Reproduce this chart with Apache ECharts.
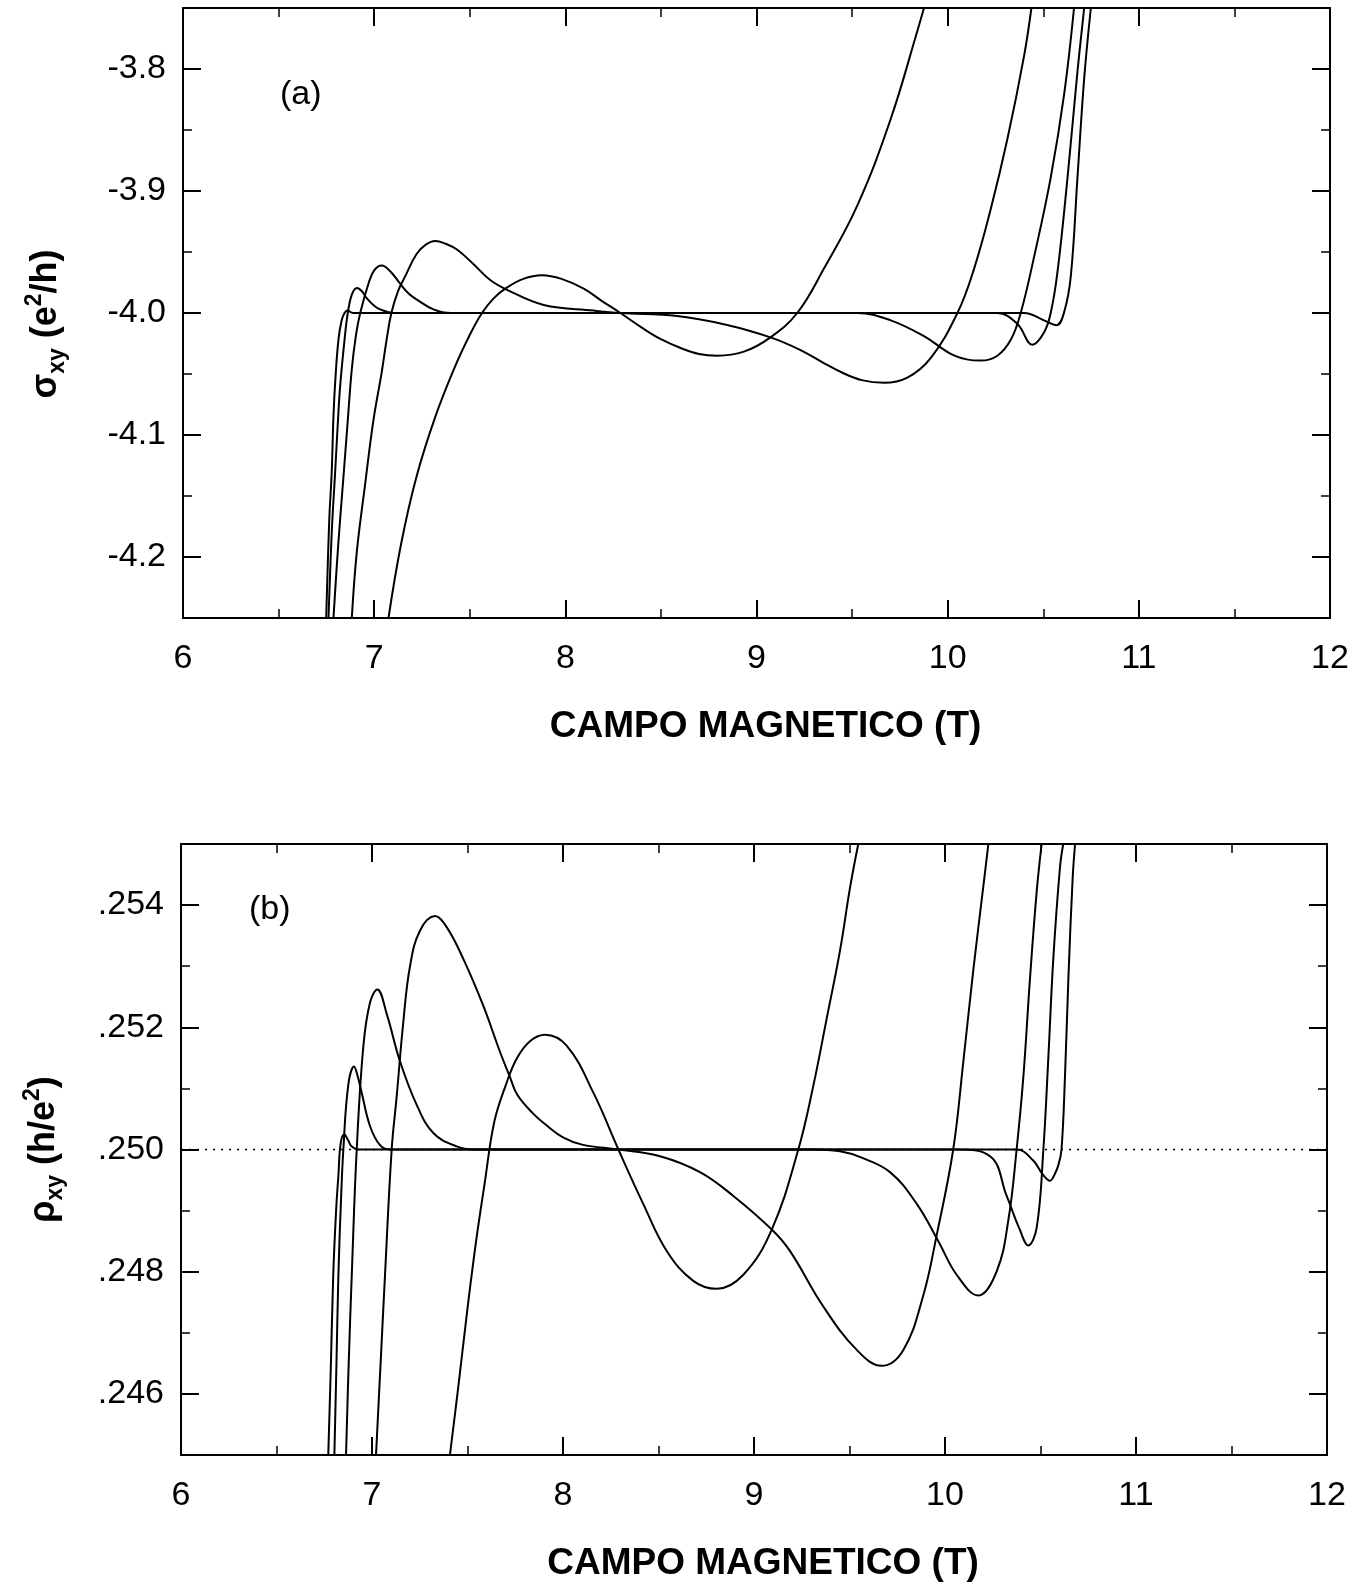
<!DOCTYPE html>
<html><head><meta charset="utf-8">
<script src="https://cdn.jsdelivr.net/npm/echarts@6/dist/echarts.min.js"></script>
<style>html,body{margin:0;padding:0;background:#fff}#c{width:1369px;height:1586px}</style>
</head><body><div id="c"></div>
<script>
// ---- tick labels ----
const xTickLabels = ['6','7','8','9','10','11','12'];
const sigmaTickLabels = ['-4.2','-4.1','-4.0','-3.9','-3.8'];
const rhoTickLabels = ['.246','.248','.250','.252','.254'];
const xAxisTitle = 'CAMPO MAGNETICO (T)';

// ---- (a) sigma_xy (e^2/h) vs B (T) ----
const sigma1 = [[6.749,-4.25],[6.765,-4.17],[6.778,-4.13],[6.787,-4.085],[6.796,-4.057],[6.813,-4.022],[6.83,-4.006],[6.845,-4.0],[6.86,-3.998],[6.89,-4.0],[7.0,-4.0],[8,-4.0],[9,-4.0],[10,-4.0],[10.40,-4.0],[10.504,-4.006],[10.569,-4.010],[10.609,-3.9995],[10.644,-3.970],[10.679,-3.889],[10.714,-3.808],[10.749,-3.75]];
const sigma2 = [[6.761,-4.25],[6.778,-4.18],[6.796,-4.13],[6.81,-4.09],[6.822,-4.06],[6.845,-4.022],[6.862,-4.0],[6.883,-3.985],[6.91,-3.9795],[6.935,-3.982],[6.962,-3.988],[7.0,-3.994],[7.031,-3.997],[7.1,-4.0],[8,-4.0],[9,-4.0],[10,-4.0],[10.26,-4.0],[10.365,-4.009],[10.443,-4.026],[10.504,-4.016],[10.539,-4.0],[10.574,-3.967],[10.627,-3.889],[10.679,-3.802],[10.714,-3.75]];
const sigma3 = [[6.787,-4.25],[6.812,-4.19],[6.839,-4.135],[6.862,-4.088],[6.883,-4.046],[6.905,-4.018],[6.927,-4.0],[6.97,-3.976],[7.0,-3.965],[7.04,-3.961],[7.085,-3.966],[7.136,-3.976],[7.18,-3.984],[7.223,-3.989],[7.31,-3.997],[7.40,-4.0],[8,-4.0],[9,-4.0],[9.527,-4.0],[9.702,-4.006],[9.876,-4.019],[10.016,-4.0335],[10.10,-4.038],[10.173,-4.039],[10.26,-4.035],[10.33,-4.022],[10.382,-4.0],[10.452,-3.954],[10.539,-3.889],[10.609,-3.821],[10.661,-3.75]];
const sigma4 = [[6.883,-4.25],[6.909,-4.196],[6.953,-4.14],[6.996,-4.088],[7.04,-4.048],[7.065,-4.022],[7.09,-4.0],[7.125,-3.982],[7.162,-3.970],[7.22,-3.952],[7.27,-3.944],[7.32,-3.941],[7.37,-3.943],[7.433,-3.948],[7.52,-3.960],[7.607,-3.973],[7.695,-3.981],[7.887,-3.9934],[8.148,-3.998],[8.288,-4.0],[8.585,-4.0025],[8.846,-4.0098],[9.073,-4.020],[9.225,-4.030],[9.352,-4.041],[9.45,-4.049],[9.55,-4.055],[9.667,-4.0572],[9.789,-4.053],[9.911,-4.037],[10.051,-4.0],[10.138,-3.9638],[10.225,-3.915],[10.313,-3.857],[10.40,-3.789],[10.438,-3.75]];
const sigma5 = [[7.075,-4.25],[7.14,-4.19],[7.22,-4.135],[7.32,-4.085],[7.42,-4.045],[7.50,-4.018],[7.564,-4.0],[7.625,-3.988],[7.686,-3.980],[7.78,-3.972],[7.878,-3.969],[7.98,-3.972],[8.096,-3.980],[8.19,-3.99],[8.288,-4.0],[8.40,-4.012],[8.50,-4.0215],[8.60,-4.0285],[8.70,-4.0336],[8.794,-4.035],[8.934,-4.0317],[9.073,-4.020],[9.213,-4.0],[9.352,-3.9638],[9.527,-3.912],[9.702,-3.841],[9.841,-3.769],[9.876,-3.75]];

// ---- (b) rho_xy (h/e^2) vs B (T) ----
const rho1 = [[6.771,0.245],[6.785,0.2465],[6.797,0.24794],[6.812,0.249],[6.824,0.24957],[6.836,0.2501],[6.855,0.25025],[6.875,0.25015],[6.894,0.25005],[6.93,0.250],[8,0.250],[9,0.250],[10,0.250],[10.375,0.250],[10.462,0.24982],[10.51,0.2496],[10.55,0.24949],[10.575,0.2496],[10.593,0.24974],[10.61,0.250],[10.628,0.25118],[10.646,0.2528],[10.668,0.25442],[10.681,0.255]];
const rho2 = [[6.803,0.245],[6.814,0.2465],[6.824,0.24794],[6.838,0.2492],[6.85,0.250],[6.876,0.25106],[6.906,0.25136],[6.925,0.2512],[6.946,0.25093],[6.99,0.25038],[7.042,0.25007],[7.094,0.250],[8,0.250],[9,0.250],[10.06,0.250],[10.236,0.24989],[10.323,0.24924],[10.39,0.2487],[10.436,0.24843],[10.48,0.24872],[10.515,0.250],[10.541,0.2515],[10.567,0.25312],[10.602,0.25462],[10.619,0.255]];
const rho3 = [[6.864,0.245],[6.878,0.2465],[6.894,0.24794],[6.92,0.250],[6.955,0.2517],[6.99,0.25241],[7.028,0.25262],[7.077,0.25222],[7.147,0.25144],[7.234,0.25073],[7.321,0.25027],[7.443,0.25005],[7.53,0.250],[9,0.250],[9.3,0.250],[9.45,0.24997],[9.56,0.24987],[9.712,0.24963],[9.852,0.24911],[9.965,0.2485],[10.061,0.24795],[10.174,0.24761],[10.271,0.24801],[10.332,0.24885],[10.375,0.250],[10.41,0.25118],[10.445,0.2528],[10.48,0.25422],[10.506,0.255]];
const rho4 = [[7.021,0.245],[7.045,0.2465],[7.068,0.24794],[7.103,0.250],[7.129,0.25086],[7.164,0.25209],[7.199,0.253],[7.251,0.25358],[7.33,0.25382],[7.391,0.25364],[7.478,0.25312],[7.583,0.25235],[7.67,0.2516],[7.723,0.25118],[7.76,0.2509],[7.84,0.2506],[7.92,0.25038],[8.0,0.2502],[8.1,0.25008],[8.29,0.250],[8.508,0.24989],[8.717,0.24963],[8.892,0.24924],[9.093,0.24869],[9.188,0.24834],[9.363,0.24743],[9.538,0.24672],[9.668,0.24646],[9.782,0.24672],[9.887,0.24762],[9.956,0.24859],[10.043,0.250],[10.096,0.25144],[10.148,0.25293],[10.2,0.25429],[10.227,0.255]];
const rho5 = [[7.408,0.245],[7.455,0.2462],[7.50,0.2474],[7.545,0.2485],[7.59,0.24945],[7.64,0.25045],[7.70,0.25105],[7.76,0.2515],[7.83,0.25178],[7.906,0.25188],[8.019,0.2517],[8.159,0.25093],[8.29,0.250],[8.42,0.24911],[8.543,0.24834],[8.682,0.24785],[8.805,0.24772],[8.944,0.24795],[9.093,0.24869],[9.232,0.250],[9.311,0.25105],[9.381,0.25215],[9.45,0.25325],[9.503,0.25429],[9.546,0.255]];
const rhoPlateau = [[6,0.25],[12,0.25]];

const sigmaCurves = [sigma1, sigma2, sigma3, sigma4, sigma5];
const rhoCurves = [rho1, rho2, rho3, rho4, rho5];

const FONT = '"Liberation Sans", Arial, sans-serif';

function lbl(list, dec) {
  return function (v) {
    const s = v.toFixed(dec);
    const t = s.replace(/^0\./, '.').replace(/^-0\./, '-.');
    return (Math.abs(v - parseFloat(s)) < 1e-9 && list.indexOf(t) >= 0) ? t : '';
  };
}

const tickStyle = { inside: true, length: 18, lineStyle: { color: '#000', width: 2 } };
const minorStyle = { show: true, splitNumber: 2, length: 9, lineStyle: { color: '#000', width: 1.5 } };
const lineAx = { show: true, onZero: false, lineStyle: { color: '#000', width: 2 } };
const baseLabel = { color: '#000', fontSize: 34, fontFamily: FONT };

function xAxes(gridIndex) {
  return [
    { type: 'value', gridIndex, position: 'bottom', min: 6, max: 12, interval: 1,
      axisLine: lineAx, axisTick: tickStyle, minorTick: minorStyle, splitLine: { show: false },
      axisLabel: Object.assign({ formatter: lbl(xTickLabels, 0), margin: 24 }, baseLabel),
      name: xAxisTitle, nameLocation: 'middle', nameGap: 90,
      nameTextStyle: { fontSize: 37, fontWeight: 'bold', color: '#000', fontFamily: FONT, padding: [0, 0, 0, 18] } },
    { type: 'value', gridIndex, position: 'top', min: 6, max: 12, interval: 1,
      axisLine: lineAx, axisTick: tickStyle, minorTick: minorStyle, splitLine: { show: false },
      axisLabel: { show: false } }
  ];
}

function richName(main, sub, sup1, tail) {
  return '{a|' + main + '}{s|' + sub + '}{a| (' + sup1 + '}{p|2}{a|' + tail + ')}';
}
const richStyles = {
  a: { fontSize: 36, fontWeight: 'bold', fontFamily: FONT, color: '#000', lineHeight: 46, verticalAlign: 'middle' },
  s: { fontSize: 23, fontWeight: 'bold', fontFamily: FONT, color: '#000', lineHeight: 23, verticalAlign: 'bottom' },
  p: { fontSize: 23, fontWeight: 'bold', fontFamily: FONT, color: '#000', lineHeight: 23, verticalAlign: 'top' }
};

function yAxes(gridIndex, min, max, labels, dec, name, padRight) {
  return [
    { type: 'value', gridIndex, position: 'left', min, max, splitNumber: 5,
      axisLine: lineAx, axisTick: tickStyle, minorTick: minorStyle, splitLine: { show: false },
      axisLabel: Object.assign({ formatter: lbl(labels, dec), margin: 17, showMinLabel: false, showMaxLabel: false }, baseLabel),
      name, nameLocation: 'middle', nameRotate: 90, nameGap: 114,
      nameTextStyle: { rich: richStyles, padding: [0, padRight, 0, 0] } },
    { type: 'value', gridIndex, position: 'right', min, max, splitNumber: 5,
      axisLine: lineAx, axisTick: tickStyle, minorTick: minorStyle, splitLine: { show: false },
      axisLabel: { show: false } }
  ];
}

const series = [];
sigmaCurves.forEach(d => series.push({
  type: 'line', xAxisIndex: 0, yAxisIndex: 0, data: d, showSymbol: false, symbol: 'none',
  smooth: 0.4, lineStyle: { color: '#000', width: 2 }, silent: true
}));
series.push({
  type: 'line', xAxisIndex: 2, yAxisIndex: 2, data: rhoPlateau, showSymbol: false, symbol: 'none',
  lineStyle: { color: '#000', width: 1.5, type: [2, 6] }, z: 1, silent: true
});
rhoCurves.forEach(d => series.push({
  type: 'line', xAxisIndex: 2, yAxisIndex: 2, data: d, showSymbol: false, symbol: 'none',
  smooth: 0.4, lineStyle: { color: '#000', width: 2 }, z: 3, silent: true
}));

const chart = echarts.init(document.getElementById('c'), null, { renderer: 'canvas' });
chart.setOption({
  animation: false,
  backgroundColor: '#fff',
  grid: [
    { left: 183, top: 8, width: 1147, height: 610 },
    { left: 181, top: 844, width: 1146, height: 611 }
  ],
  xAxis: xAxes(0).concat(xAxes(1)),
  yAxis: yAxes(0, -4.25, -3.75, sigmaTickLabels, 1, richName('σ', 'xy', 'e', '/h'), 22)
    .concat(yAxes(1, 0.245, 0.255, rhoTickLabels, 3, richName('ρ', 'xy', 'h/e', ''), 0)),
  graphic: [
    { type: 'text', left: 280, top: 78, style: { text: '(a)', fontSize: 34, fontFamily: FONT, fill: '#000' } },
    { type: 'text', left: 249, top: 893, style: { text: '(b)', fontSize: 34, fontFamily: FONT, fill: '#000' } }
  ],
  series
});
</script>
</body></html>
